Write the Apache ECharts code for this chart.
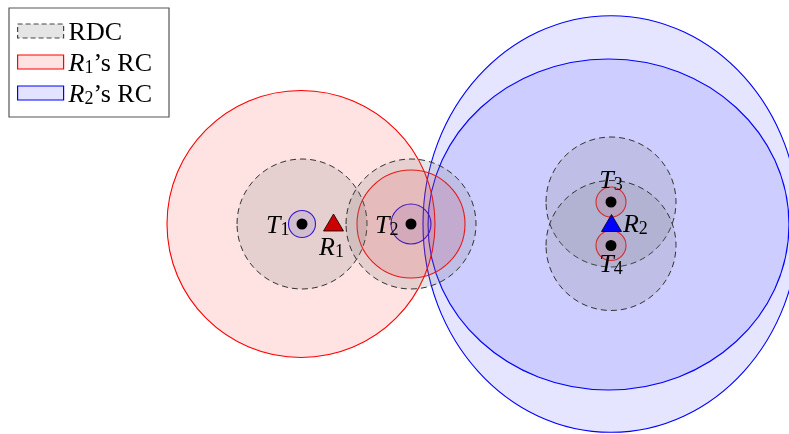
<!DOCTYPE html>
<html>
<head>
<meta charset="utf-8">
<script src="https://cdn.jsdelivr.net/npm/echarts@6/dist/echarts.min.js"></script>
<style>
  html, body { margin: 0; padding: 0; background: #fff; }
  #chart { width: 789px; height: 434px; }
</style>
</head>
<body>
<div id="chart"></div>
<script>
// Plane extent in layout units (same scale on both axes)
const planeX = [0, 78.9];
const planeY = [0, 43.4];

// Targets
const targetNames = ['T1', 'T2', 'T3', 'T4'];
const targetX = [30.2, 41.1, 61.1, 61.1];
const targetY = [21.0, 21.0, 23.2, 18.85];

// Rechargers
const rechargerNames = ['R1', 'R2'];
const rechargerX = [33.35, 61.15];
const rechargerY = [21.15, 21.1];

// RDC radius around each target
const rdcRadius = [6.5, 6.5, 6.5, 6.5];

// R1's RC regions (centre, horizontal and vertical radius)
const r1rcX = [30.1, 41.1, 61.1, 61.1];
const r1rcY = [21.0, 21.0, 23.2, 18.85];
const r1rcRx = [13.4, 5.4, 1.5, 1.5];
const r1rcRy = [13.35, 5.4, 1.5, 1.5];

// R2's RC regions
const r2rcX = [30.2, 41.1, 61.1, 60.85];
const r2rcY = [21.0, 21.0, 21.0, 20.95];
const r2rcRx = [1.35, 2.0, 18.8, 18.05];
const r2rcRy = [1.35, 2.0, 20.83, 16.55];

const SERIF = 'Liberation Serif, Times New Roman, serif';

function zip4(a, b, c, d) {
  return a.map((v, i) => [v, b[i], c[i], d[i]]);
}

function ellipseRenderer(style) {
  return function (params, api) {
    const c = api.coord([api.value(0), api.value(1)]);
    const s = api.size([api.value(2), api.value(3)]);
    return {
      type: 'ellipse',
      shape: { cx: c[0], cy: c[1], rx: s[0], ry: s[1] },
      style: Object.assign({}, style)
    };
  };
}

const rich = {
  t: { fontFamily: SERIF, fontStyle: 'italic', fontSize: 26, lineHeight: 30, verticalAlign: 'bottom', color: '#000' },
  s: { fontFamily: SERIF, fontSize: 18, lineHeight: 17, verticalAlign: 'bottom', color: '#000' },
  n: { fontFamily: SERIF, fontSize: 26, lineHeight: 30, verticalAlign: 'bottom', color: '#000' }
};

function subLabel(name) {
  return '{t|' + name.charAt(0) + '}{s|' + name.slice(1) + '}';
}

const targetLabelPos = [
  { position: 'left', distance: 7 },
  { position: 'left', distance: 7 },
  { position: 'top', distance: 2 },
  { position: 'bottom', distance: -3 }
];

const rechargerStyle = [
  { color: '#cc0000', label: { position: 'bottom', distance: 0, offset: [-2, 0] } },
  { color: '#0000ff', label: { position: 'right', distance: 1 } }
];

const legendNames = ['RDC', "R1's RC", "R2's RC"];

const chart = echarts.init(document.getElementById('chart'), null, { renderer: 'canvas' });

chart.setOption({
  animation: false,
  backgroundColor: '#fff',
  grid: { left: 0, right: 0, top: 0, bottom: 0 },
  xAxis: { type: 'value', min: planeX[0], max: planeX[1], show: false },
  yAxis: { type: 'value', min: planeY[0], max: planeY[1], show: false },
  legend: {
    orient: 'vertical',
    left: 9,
    top: 8,
    backgroundColor: '#fff',
    borderColor: '#555',
    borderWidth: 1.2,
    borderRadius: 0,
    padding: [12, 17, 9, 8],
    itemGap: 5,
    itemWidth: 46,
    itemHeight: 14,
    selectedMode: false,
    data: [
      { name: legendNames[0], icon: 'rect', itemStyle: { color: '#e5e5e5', borderColor: '#444', borderWidth: 1.2, borderType: [5, 3] } },
      { name: legendNames[1], icon: 'rect', itemStyle: { color: '#ffe3e3', borderColor: '#ff0000', borderWidth: 1.2 } },
      { name: legendNames[2], icon: 'rect', itemStyle: { color: '#e3e3ff', borderColor: '#0000ff', borderWidth: 1.2 } }
    ],
    formatter: function (name) {
      if (name === 'RDC') return '{n|RDC}';
      return '{t|R}{s|' + name.charAt(1) + '}{n|\u2019s RC}';
    },
    textStyle: { rich: rich }
  },
  series: [
    {
      name: legendNames[2],
      type: 'custom',
      coordinateSystem: 'cartesian2d',
      encode: { x: 0, y: 1 },
      silent: true,
      z: 1,
      itemStyle: { color: '#e3e3ff', borderColor: '#0000ff' },
      renderItem: ellipseRenderer({ fill: 'rgba(0,0,255,0.1)', stroke: '#0000ff', lineWidth: 1.1 }),
      data: zip4(r2rcX, r2rcY, r2rcRx, r2rcRy)
    },
    {
      name: legendNames[1],
      type: 'custom',
      coordinateSystem: 'cartesian2d',
      encode: { x: 0, y: 1 },
      silent: true,
      z: 2,
      itemStyle: { color: '#ffe3e3', borderColor: '#ff0000' },
      renderItem: ellipseRenderer({ fill: 'rgba(255,0,0,0.11)', stroke: '#ff0000', lineWidth: 1.1 }),
      data: zip4(r1rcX, r1rcY, r1rcRx, r1rcRy)
    },
    {
      name: legendNames[0],
      type: 'custom',
      coordinateSystem: 'cartesian2d',
      encode: { x: 0, y: 1 },
      silent: true,
      z: 3,
      itemStyle: { color: '#e5e5e5', borderColor: '#444' },
      renderItem: ellipseRenderer({ fill: 'rgba(128,128,128,0.2)', stroke: '#333', lineWidth: 1, lineDash: [6, 4] }),
      data: zip4(targetX, targetY, rdcRadius, rdcRadius)
    },
    {
      name: 'targets',
      type: 'scatter',
      z: 5,
      symbol: 'circle',
      symbolSize: 11,
      itemStyle: { color: '#000', opacity: 1 },
      label: {
        show: true,
        formatter: function (p) { return subLabel(p.name); },
        rich: rich
      },
      data: targetNames.map((n, i) => ({
        name: n,
        value: [targetX[i], targetY[i]],
        label: targetLabelPos[i]
      }))
    },
    {
      name: 'rechargers',
      type: 'scatter',
      z: 5,
      symbol: 'triangle',
      symbolSize: [20, 17],
      label: {
        show: true,
        formatter: function (p) { return subLabel(p.name); },
        rich: rich
      },
      data: rechargerNames.map((n, i) => ({
        name: n,
        value: [rechargerX[i], rechargerY[i]],
        itemStyle: { color: rechargerStyle[i].color, borderColor: '#000', borderWidth: 0.8, opacity: 1 },
        label: rechargerStyle[i].label
      }))
    }
  ]
});
</script>
</body>
</html>
